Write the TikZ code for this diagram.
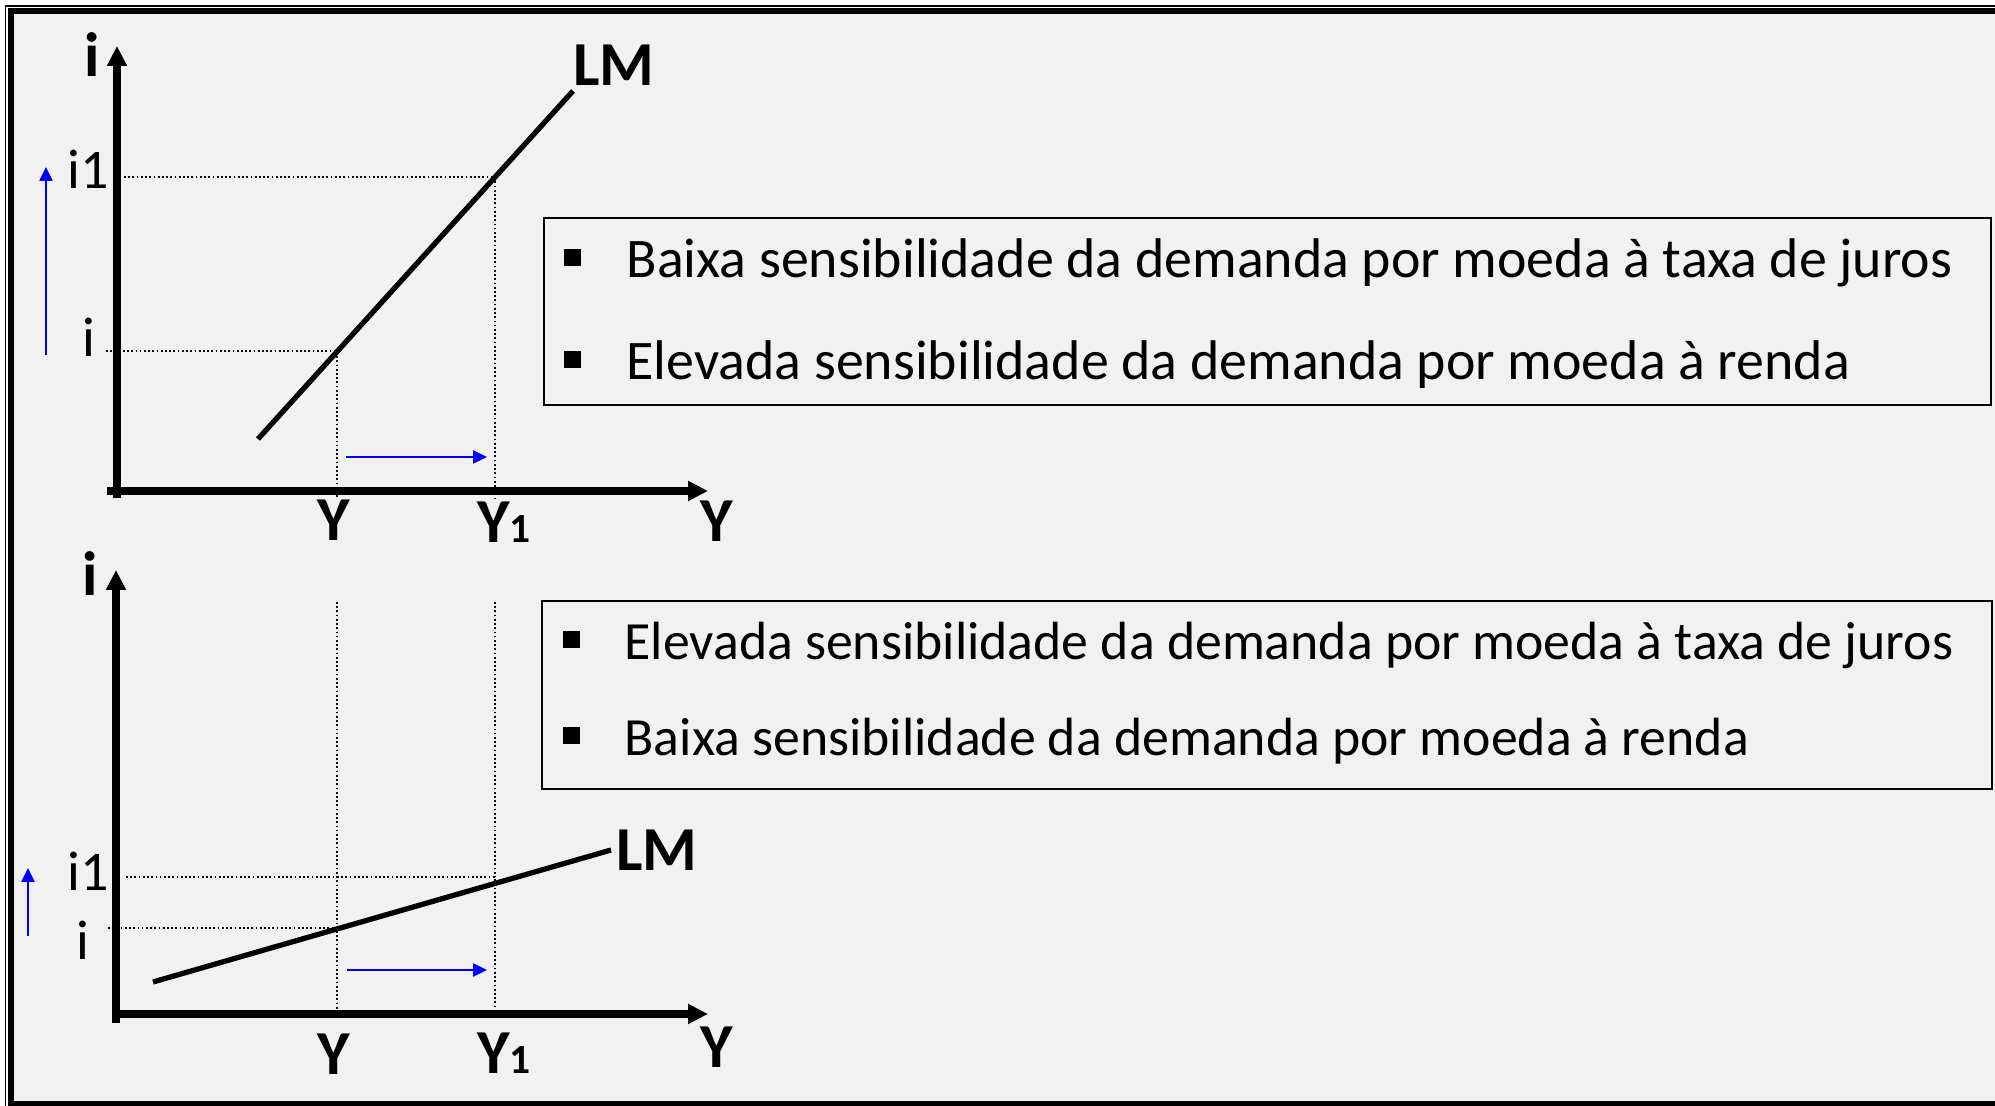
\documentclass[tikz,border=0pt]{standalone}
\usepackage{fontspec}
\setmainfont{Carlito}
\usepackage{xcolor}
\usetikzlibrary{arrows.meta}

\definecolor{panel}{HTML}{F1F1F1}
\newcommand{\smallidx}[1]{{\fontsize{11.8}{12}\selectfont #1}}

\begin{document}
\begin{tikzpicture}[
        every node/.style={inner sep=0pt},
        axisline/.style={line width=2pt, -{Triangle[length=0.2cm,width=0.19cm]}},
        lmline/.style={line width=1.5pt},
        guideline/.style={line width=0.35pt, dash pattern=on 0.5pt off 0.7pt},
        moveline/.style={blue, line width=0.7pt, -{Triangle[length=0.14cm,width=0.13cm]}},
        biglabel/.style={font=\fontsize{17.8}{20}\selectfont\bfseries, anchor=base},
        ticklabel/.style={font=\fontsize{15.9}{19}\selectfont, anchor=base},
        notebox/.style={draw, line width=0.6pt},
        notetext/.style={font=\fontsize{15.9}{19}\selectfont, anchor=base west},
        sqbullet/.style={fill, minimum size=0.17cm},
    ]

    \useasboundingbox (0,0) rectangle (19.95,11.06);

    % frame
    \draw[line width=0.45pt] (0.055,-0.5) rectangle (20.5,11.0);
    \filldraw[fill=panel, line width=1.7pt] (0.11,0.02) rectangle (20.5,10.945);

    % upper graph: steep LM
    \draw[axisline] (1.17,6.08) -- (1.17,10.60);
    \draw[axisline] (1.07,6.15) -- (7.08,6.15);
    \coordinate (e0) at (3.37,7.55);
    \coordinate (e1) at (4.95,9.29);
    \draw[guideline] (1.06,7.55) -- (e0) -- (3.37,6.08);
    \draw[guideline] (1.24,9.29) -- (e1) -- (4.95,6.08);
    \draw[lmline] (2.58,6.67) -- (5.73,10.15);

    \draw[moveline] (0.46,7.51) -- (0.46,9.39);
    \draw[moveline] (3.46,6.49) -- (4.87,6.49);

    \node[biglabel] (itop1) at (0.92,10.29) {i};
    \node[biglabel] (lm1) at (6.14,10.20) {LM};
    \node[ticklabel] (ione1) at (0.88,9.17) {i1};
    \node[ticklabel] (izero1) at (0.89,7.49) {i};
    \node[biglabel] (yzero1) at (3.34,5.65) {Y};
    \node[biglabel] (yone1) at (5.04,5.63) {Y\smallidx{1}};
    \node[biglabel] (yaxis1) at (7.17,5.64) {Y};

    \draw[notebox] (5.44,7.01) rectangle (19.91,8.88);
    \foreach \y/\txt [count=\n] in {8.28/Baixa sensibilidade da demanda por moeda à taxa de juros,
                                     7.26/Elevada sensibilidade da demanda por moeda à renda}{
            \node[sqbullet] (ua\n) at (5.72,\y+0.20) {};
            \node[notetext] (ut\n) at (6.26,\y) {\txt};
        }

    % lower graph: flat LM
    \draw[axisline] (1.16,0.83) -- (1.16,5.36);
    \draw[axisline] (1.16,0.92) -- (7.08,0.92);
    \coordinate (f0) at (3.37,1.78);
    \coordinate (f1) at (4.95,2.29);
    \draw[guideline] (1.08,1.78) -- (f0) -- (3.37,0.92);
    \draw[guideline] (3.37,5.04) -- (f0);
    \draw[guideline] (1.26,2.29) -- (f1) -- (4.95,0.92);
    \draw[guideline] (4.95,5.04) -- (f1);
    \draw[lmline] (1.53,1.24) -- (6.11,2.56);

    \draw[moveline] (0.28,1.70) -- (0.28,2.38);
    \draw[moveline] (3.47,1.36) -- (4.87,1.36);

    \node[biglabel] (itop2) at (0.90,5.10) {i};
    \node[biglabel] (lm2) at (6.57,2.35) {LM};
    \node[ticklabel] (ione2) at (0.88,2.15) {i1};
    \node[ticklabel] (izero2) at (0.83,1.46) {i};
    \node[biglabel] (yzero2) at (3.34,0.31) {Y};
    \node[biglabel] (yone2) at (5.04,0.32) {Y\smallidx{1}};
    \node[biglabel] (yaxis2) at (7.17,0.38) {Y};

    \draw[notebox] (5.42,3.17) rectangle (19.92,5.05);
    \foreach \y/\txt [count=\n] in {4.46/Elevada sensibilidade da demanda por moeda à taxa de juros,
                                     3.50/Baixa sensibilidade da demanda por moeda à renda}{
            \node[sqbullet] (la\n) at (5.71,\y+0.20) {};
            \node[notetext, font=\fontsize{15.3}{19}\selectfont] (lt\n) at (6.24,\y) {\txt};
        }
\end{tikzpicture}
\end{document}
